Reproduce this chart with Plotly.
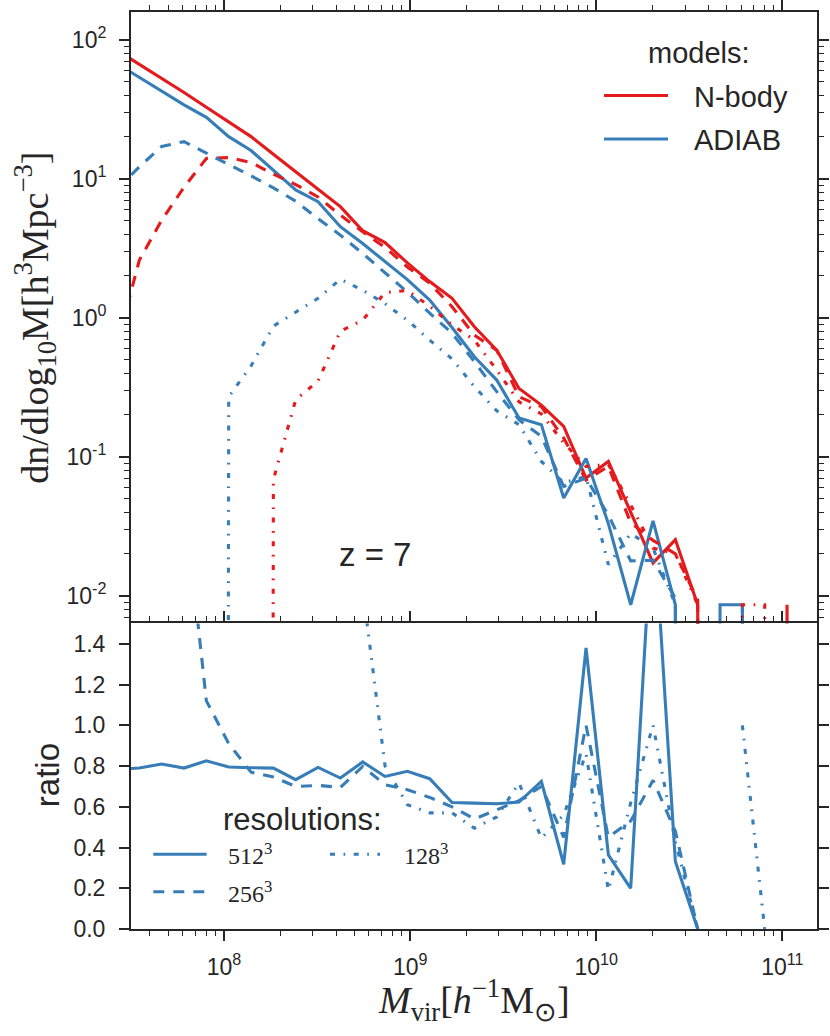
import plotly.graph_objects as go

# ---------------- data ----------------
log_mass = [7.425, 7.545, 7.665, 7.785, 7.905, 8.025, 8.145, 8.265, 8.385, 8.505,
            8.625, 8.745, 8.865, 8.985, 9.105, 9.225, 9.345, 9.465, 9.585, 9.705,
            9.825, 9.945, 10.065, 10.185, 10.305, 10.425, 10.545, 10.665, 10.785,
            10.905, 11.025, 11.145]

nbody_512 = [84, 66.7, 52.8, 41.8, 32.7, 25.6, 20.1, 15.0, 11.3, 8.4,
             6.3, 4.23, 3.47, 2.48, 1.82, 1.38, 0.86, 0.585, 0.31, 0.235,
             0.165, 0.0702, 0.0925, 0.0394, 0.0172, 0.0253, 0.0086, 0, 0,
             0, 0.0086, 0]
adiab_512 = [67.3, 53.6, 43.2, 34.0, 27.7, 20.1, 15.97, 11.6, 8.31, 6.84,
             4.52, 3.42, 2.52, 1.88, 1.34, 0.85, 0.524, 0.356, 0.19, 0.17,
             0.0505, 0.0971, 0.033, 0.0086, 0.0345, 0.0086, 0, 0.0086, 0.0086,
             0, 0, 0]
nbody_256 = [0.64, 2.60, 5.04, 8.69, 14.0, 14.2, 13.1, 10.8, 9.08, 7.4,
             5.47, 4.15, 3.21, 2.32, 1.77, 1.2, 0.75, 0.585, 0.27, 0.229,
             0.136, 0.068, 0.085, 0.0335, 0.025, 0.02, 0.0093, 0, 0,
             0, 0, 0]
adiab_256 = [8.45, 12.2, 17.1, 18.5, 15.3, 12.7, 10.5, 8.59, 6.89, 5.17,
             3.93, 2.90, 2.12, 1.53, 1.08, 0.773, 0.483, 0.294, 0.184, 0.14,
             0.061, 0.07, 0.038, 0.0178, 0.018, 0.0096, 0, 0, 0,
             0, 0, 0]
nbody_128 = [0, 0, 0, 0, 0, 0, 0, 0.0683, 0.257, 0.35,
             0.80, 0.96, 1.52, 1.57, 1.21, 0.887, 0.69, 0.42, 0.248, 0.203,
             0.126, 0.085, 0.088, 0.045, 0.022, 0.02, 0.0086, 0, 0.0086,
             0.0086, 0, 0]
adiab_128 = [0, 0, 0, 0, 0, 0.27, 0.45, 0.87, 1.10, 1.38,
             1.89, 1.58, 1.26, 0.96, 0.69, 0.505, 0.32, 0.214, 0.17, 0.0925,
             0.065, 0.072, 0.0167, 0.028, 0.022, 0.0086, 0, 0, 0.0086,
             0, 0, 0]

ratio_512 = [0.785, 0.79, 0.81, 0.79, 0.826, 0.795, 0.792, 0.79, 0.733, 0.793,
             0.741, 0.82, 0.749, 0.774, 0.738, 0.621, 0.618, 0.615, 0.623, 0.725,
             0.318, 1.38, 0.364, 0.20, 2.07, 0.331, 0.0, None, None,
             None, None, None]
ratio_256 = [13.0, 4.7, 3.4, 2.13, 1.12, 0.91, 0.77, 0.746, 0.70, 0.705,
             0.695, 0.798, 0.708, 0.684, 0.646, 0.60, 0.54, 0.585, 0.63, 0.70,
             0.45, 1.0, 0.45, 0.53, 0.73, 0.48, 0.0, None, None,
             None, None, None]
ratio_128 = [None, None, None, None, None, None, None, 13.0, 4.3, 3.9,
             2.36, 1.67, 0.80, 0.61, 0.57, 0.57, 0.495, 0.55, 0.717, 0.446,
             0.56, 0.86, 0.19, 0.62, 1.0, 0.43, 0.0, None, 1.0,
             0.0, None, None]

x_tick_vals = [1e8, 1e9, 1e10, 1e11]
x_tick_text = ["10<sup>8</sup>", "10<sup>9</sup>", "10<sup>10</sup>", "10<sup>11</sup>"]
y_tick_vals = [1e-2, 1e-1, 1e0, 1e1, 1e2]
y_tick_text = ["10<sup>-2</sup>", "10<sup>-1</sup>", "10<sup>0</sup>", "10<sup>1</sup>", "10<sup>2</sup>"]
ratio_tick_vals = [0.0, 0.2, 0.4, 0.6, 0.8, 1.0, 1.2, 1.4]

# ---------------- styling ----------------
RED = "#e41a1c"
BLUE = "#377eb8"
AX = "#262626"
LW = 3.1
DASH = "11px,9px"
DASHDOT = "5px,8.5px,1.7px,8.5px"
SANS = "Liberation Sans"
SERIF = "Liberation Serif"
FLOOR = 1e-100  # empty bins drop off the log axis, like matplotlib's clipping

mass = [10 ** v for v in log_mass]


def on_log(vals):
    return [v if v > 0 else FLOOR for v in vals]


fig = go.Figure()

top_series = [
    (nbody_512, RED, "solid", "N-body 512"),
    (adiab_512, BLUE, "solid", "ADIAB 512"),
    (nbody_256, RED, DASH, "N-body 256"),
    (adiab_256, BLUE, DASH, "ADIAB 256"),
    (nbody_128, RED, DASHDOT, "N-body 128"),
    (adiab_128, BLUE, DASHDOT, "ADIAB 128"),
]
for vals, col, dash, name in top_series:
    fig.add_trace(go.Scatter(x=mass, y=on_log(vals), mode="lines", name=name,
                             line=dict(color=col, width=LW, dash=dash),
                             xaxis="x", yaxis="y", showlegend=False,
                             hoverinfo="skip"))

ratio_series = [
    (ratio_512, "solid", "512"),
    (ratio_256, DASH, "256"),
    (ratio_128, DASHDOT, "128"),
]
for vals, dash, name in ratio_series:
    fig.add_trace(go.Scatter(x=mass, y=vals, mode="lines", name=name,
                             line=dict(color=BLUE, width=LW, dash=dash),
                             xaxis="x2", yaxis="y2", showlegend=False,
                             hoverinfo="skip"))

minor_log = [m * 10 ** e for e in range(-3, 12) for m in range(2, 10)]
minor_cfg = dict(ticks="outside", ticklen=5, tickwidth=1.2, tickcolor=AX,
                 tickmode="array", tickvals=minor_log, showgrid=False)
common = dict(showline=True, linecolor=AX, linewidth=2, ticks="outside",
              tickcolor=AX, tickwidth=1.5, ticklen=10, showgrid=False,
              zeroline=False, automargin=False,
              tickfont=dict(family=SANS, size=23, color=AX))

XR = [7.5, 11.186]
DIV = 0.3332

fig.update_layout(
    width=830, height=1036,
    margin=dict(l=131, r=13, t=12, b=107, autoexpand=False),
    paper_bgcolor="white", plot_bgcolor="white",
    showlegend=False,
    xaxis=dict(type="log", range=XR, domain=[0, 1], anchor="y", side="top",
               mirror=False, showticklabels=False, tickmode="array",
               tickvals=x_tick_vals, minor=minor_cfg, **common),
    yaxis=dict(type="log", range=[-2.2, 2.2], domain=[DIV, 1], anchor="x",
               mirror="ticks", tickmode="array", tickvals=y_tick_vals,
               ticktext=y_tick_text, minor=minor_cfg, ticklabelstandoff=8,
               **common),
    xaxis2=dict(type="log", range=XR, domain=[0, 1], anchor="y2",
                mirror="ticks", tickmode="array", tickvals=x_tick_vals,
                ticktext=x_tick_text, minor=minor_cfg, ticklabelstandoff=6,
                **common),
    yaxis2=dict(range=[0, 1.5], domain=[0, DIV], anchor="x2", mirror="ticks",
                tickmode="array", tickvals=ratio_tick_vals, tickformat=".1f",
                ticklabelstandoff=9, **common),
)

# ---------------- text ----------------
def note(text, x, y, size, family=SANS, angle=0, xanchor="center"):
    fig.add_annotation(text=text, x=x, y=y, xref="paper", yref="paper",
                       showarrow=False, textangle=angle, xanchor=xanchor,
                       yanchor="middle", font=dict(family=family, size=size, color=AX))


note("dn/dlog<sub>10</sub>M[h<sup>3</sup>Mpc<sup>−3</sup>]", -0.14, (DIV + 1) / 2,
     38, SERIF, -90)
note("ratio", -0.1217, 0.1672, 33, SANS, -90)
note("<i>M</i><sub>vir</sub>[<i>h</i><sup>−1</sup>M<sub>⊙</sub>]", 0.5, -0.0774,
     38, SERIF)
note("z = 7", 0.3557, 0.4089, 33)

# models legend
note("models:", 0.8273, 0.9553, 29)
fig.add_shape(type="line", xref="paper", yref="paper", x0=0.6895, x1=0.7828,
              y0=0.9089, y1=0.9089, line=dict(color=RED, width=LW))
fig.add_shape(type="line", xref="paper", yref="paper", x0=0.6895, x1=0.7828,
              y0=0.8615, y1=0.8615, line=dict(color=BLUE, width=LW))
note("N-body", 0.8178, 0.9075, 29, xanchor="left")
note("ADIAB", 0.8178, 0.8600, 29, xanchor="left")

# resolutions legend
note("resolutions:", 0.2507, 0.1190, 31)
fig.add_shape(type="line", xref="paper", yref="paper", x0=0.0325, x1=0.1103,
              y0=0.0815, y1=0.0815, line=dict(color=BLUE, width=LW))
fig.add_shape(type="line", xref="paper", yref="paper", x0=0.0325, x1=0.1103,
              y0=0.0407, y1=0.0407, line=dict(color=BLUE, width=LW, dash=DASH))
fig.add_shape(type="line", xref="paper", yref="paper", x0=0.2901, x1=0.3630,
              y0=0.0815, y1=0.0815, line=dict(color=BLUE, width=LW, dash=DASHDOT))
note("512<sup>3</sup>", 0.1385, 0.0815, 24, SERIF, xanchor="left")
note("256<sup>3</sup>", 0.1385, 0.0407, 24, SERIF, xanchor="left")
note("128<sup>3</sup>", 0.3946, 0.0815, 24, SERIF, xanchor="left")

fig.write_html("out.html",
               config={"displayModeBar": False},
               post_script="document.body.style.margin='0';"
                           "document.body.style.overflow='hidden';")
